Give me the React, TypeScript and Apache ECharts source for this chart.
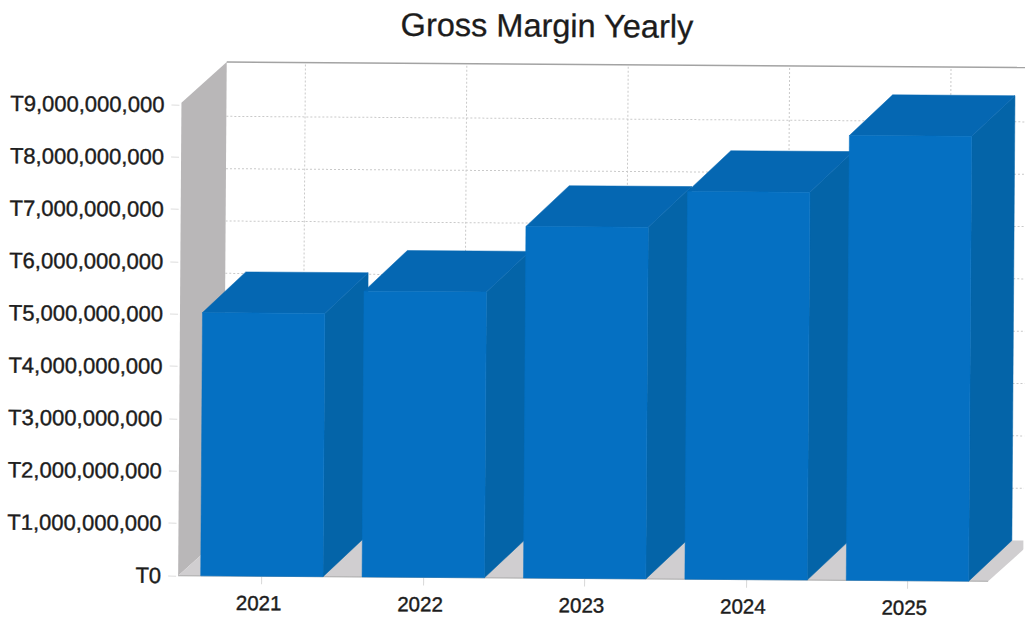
import React, { useEffect, useRef } from "react";
import * as echarts from "echarts";

const titleText = "Gross Margin Yearly";
const years = ["2021", "2022", "2023", "2024", "2025"];
const grossMargin = [5030000000, 5460000000, 6720000000, 7410000000, 8500000000];
const yTicks = [0, 1, 2, 3, 4, 5, 6, 7, 8, 9].map((n) => n * 1000000000);

// Extrusion of the 3D boxes and of the chart's room, in pixels.
const DEPTH_X = 43;
const DEPTH_Y = -41;
const ROOM_X = 45;
const ROOM_GRID_X = 40;
const WALL_PAD = 3;

const FRONT = "#0570c2";
const TOP = "#0567b2";
const SIDE = "#0464a8";
const WALL = "#b9b7b8";
const FLOOR = "#d0ced0";
const GRID = "#c9c9c9";
const TEXT = "#1c1c1c";

const formatTick = (v: number) => "T" + v.toLocaleString("en-US");

function renderRoom(params: any, api: any) {
  const cs = params.coordSys;
  const left = cs.x - WALL_PAD;
  const right = cs.x + cs.width;
  const [, y0] = api.coord([0, 0]);
  const [, yMax] = api.coord([0, yTicks[yTicks.length - 1]]);
  const children: any[] = [];

  // Left wall and floor
  children.push({
    type: "polygon",
    shape: {
      points: [
        [left, yMax - 2],
        [left + ROOM_X, yMax + DEPTH_Y - 2],
        [left + ROOM_X, y0 + DEPTH_Y],
        [left, y0],
      ],
    },
    style: { fill: WALL },
  });
  children.push({
    type: "polygon",
    shape: {
      points: [
        [left, y0],
        [right, y0],
        [right + ROOM_X, y0 + DEPTH_Y],
        [left + ROOM_X, y0 + DEPTH_Y],
      ],
    },
    style: { fill: FLOOR },
  });
  children.push({
    type: "line",
    shape: { x1: left, y1: y0, x2: right, y2: y0 },
    style: { stroke: "#a9a9a9", lineWidth: 1 },
  });

  // Back wall grid
  yTicks.slice(1, -1).forEach((tick) => {
    const y = api.coord([0, tick])[1] + DEPTH_Y;
    children.push({
      type: "line",
      shape: { x1: left + ROOM_X, y1: y, x2: right + ROOM_X, y2: y },
      style: { stroke: GRID, lineWidth: 1, lineDash: [2, 2] },
    });
  });
  years.forEach((_, i) => {
    const x = api.coord([i, 0])[0] + ROOM_GRID_X;
    children.push({
      type: "line",
      shape: { x1: x, y1: yMax + DEPTH_Y, x2: x, y2: y0 + DEPTH_Y },
      style: { stroke: GRID, lineWidth: 1, lineDash: [2, 2] },
    });
  });

  // Upper edge of the back wall
  children.push({
    type: "line",
    shape: {
      x1: left + ROOM_X,
      y1: yMax + DEPTH_Y - 2,
      x2: right + ROOM_X,
      y2: yMax + DEPTH_Y - 2,
    },
    style: { stroke: "#a3a3a3", lineWidth: 1.5 },
  });

  return { type: "group", children };
}

function renderBox(_params: any, api: any) {
  const idx = api.value(0);
  const halfWidth = api.size([1, 0])[0] * 0.379;
  const [cx, yBase] = api.coord([idx, 0]);
  const [, yTop] = api.coord([idx, api.value(1)]);
  const x0 = cx - halfWidth;
  const x1 = cx + halfWidth;

  return {
    type: "group",
    children: [
      {
        type: "polygon",
        shape: {
          points: [
            [x1, yTop],
            [x1 + DEPTH_X, yTop + DEPTH_Y],
            [x1 + DEPTH_X, yBase + DEPTH_Y],
            [x1, yBase],
          ],
        },
        style: { fill: SIDE, stroke: SIDE, lineWidth: 0.5 },
      },
      {
        type: "polygon",
        shape: {
          points: [
            [x0, yTop],
            [x0 + DEPTH_X, yTop + DEPTH_Y],
            [x1 + DEPTH_X, yTop + DEPTH_Y],
            [x1, yTop],
          ],
        },
        style: { fill: TOP, stroke: TOP, lineWidth: 0.5 },
      },
      {
        type: "rect",
        shape: { x: x0, y: yTop, width: x1 - x0, height: yBase - yTop },
        style: { fill: FRONT, stroke: FRONT, lineWidth: 0.5 },
      },
    ],
  };
}

export default function App() {
  const ref = useRef<HTMLDivElement>(null);

  useEffect(() => {
    document.body.style.margin = "0";
    document.body.style.overflow = "hidden";
    const chart = echarts.init(ref.current!, null, { renderer: "svg" });
    chart.setOption({
      animation: false,
      backgroundColor: "#ffffff",
      title: {
        text: titleText,
        left: 540,
        top: 4,
        textAlign: "center",
        textStyle: {
          fontFamily: "Liberation Sans",
          fontSize: 32.5,
          fontWeight: "normal",
          color: TEXT,
          textBorderColor: TEXT,
          textBorderWidth: 0.3,
        },
      },
      grid: { left: 183, top: 107, width: 807, height: 471 },
      xAxis: {
        type: "category",
        data: years,
        axisLine: { show: false },
        axisTick: {
          show: true,
          alignWithLabel: true,
          length: 8,
          lineStyle: { color: "#d8d8d8" },
        },
        axisLabel: {
          margin: 16,
          color: TEXT,
          fontFamily: "Liberation Sans",
          fontSize: 20.5,
          textBorderColor: TEXT,
          textBorderWidth: 0.4,
          padding: [0, 6, 0, 0],
        },
      },
      yAxis: {
        type: "value",
        min: 0,
        max: 9000000000,
        interval: 1000000000,
        offset: 5,
        axisLine: { show: false },
        axisTick: { show: true, length: 8, lineStyle: { color: "#dddddd" } },
        splitLine: { show: false },
        axisLabel: {
          margin: 15,
          color: TEXT,
          fontFamily: "Liberation Sans",
          fontSize: 22,
          textBorderColor: TEXT,
          textBorderWidth: 0.4,
          formatter: formatTick,
        },
      },
      series: [
        {
          type: "custom",
          renderItem: renderRoom,
          data: [[0, 0]],
          silent: true,
          clip: false,
        },
        {
          type: "custom",
          renderItem: renderBox,
          data: years.map((_, i) => [i, grossMargin[i]]),
          encode: { x: 0, y: 1 },
          silent: true,
          clip: false,
        },
      ],
    });
    return () => chart.dispose();
  }, []);

  return (
    <div
      ref={ref}
      style={{
        width: 1025,
        height: 622,
        transform: "rotate(0.4deg)",
        transformOrigin: "50% 50%",
      }}
    />
  );
}
